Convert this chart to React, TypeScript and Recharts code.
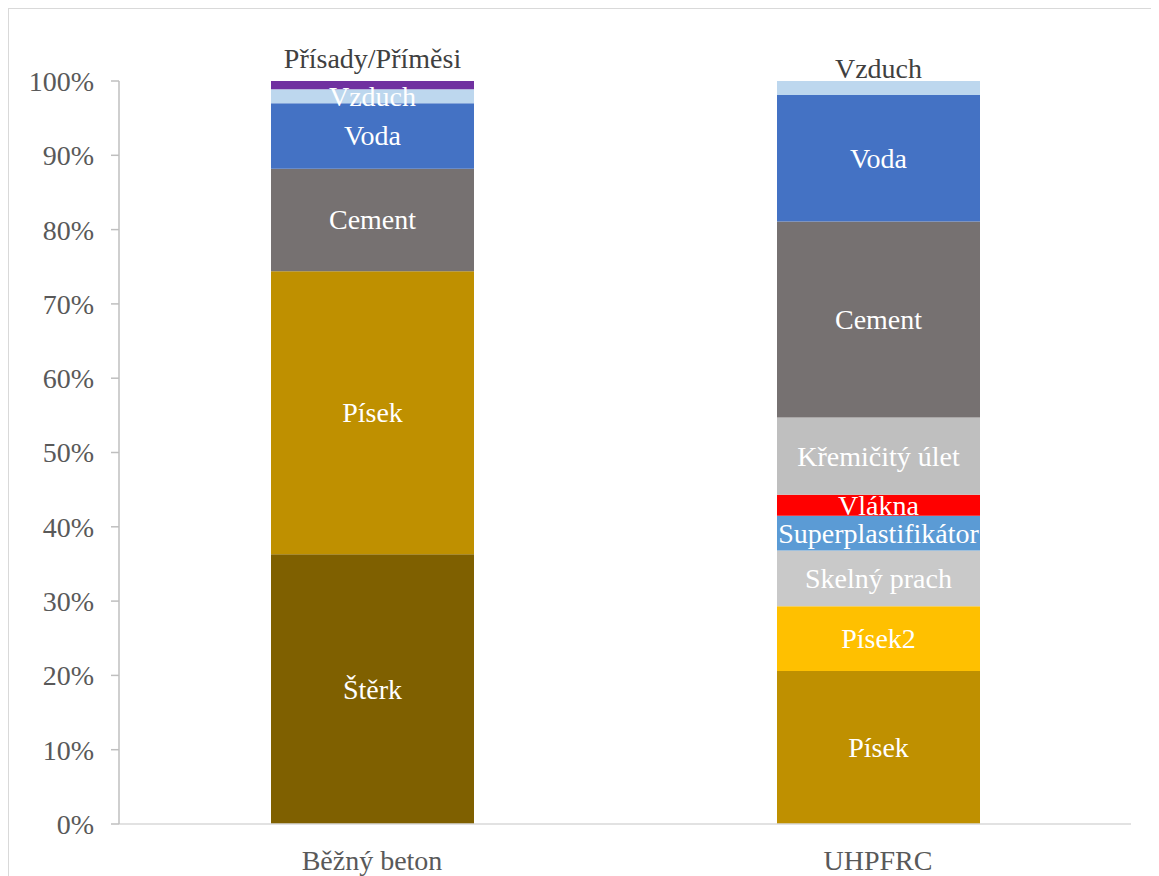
import React from 'react';
import { BarChart, Bar, XAxis, YAxis, LabelList } from 'recharts';

// ─── Data ─────────────────────────────────────────────────────────────────────
const categories = ['Běžný beton', 'UHPFRC'];
const sterk = [36.3, 0];
const pisek = [38.1, 20.6];
const pisek2 = [0, 8.7];
const skelnyPrach = [0, 7.5];
const superplast = [0, 4.7];
const vlakna = [0, 2.8];
const kremicity = [0, 10.4];
const cement = [13.8, 26.4];
const voda = [8.8, 17.0];
const vzduch = [1.9, 1.9];
const prisady = [1.1, 0];
const yTicks = [0, 10, 20, 30, 40, 50, 60, 70, 80, 90, 100];

const series = [
  { key: 'Štěrk', values: sterk, color: '#7F6000' },
  { key: 'Písek', values: pisek, color: '#BF9000' },
  { key: 'Písek2', values: pisek2, color: '#FFC000' },
  { key: 'Skelný prach', values: skelnyPrach, color: '#C9C9C9' },
  { key: 'Superplastifikátor', values: superplast, color: '#5B9BD5' },
  { key: 'Vlákna', values: vlakna, color: '#FF0000' },
  { key: 'Křemičitý úlet', values: kremicity, color: '#BFBFBF' },
  { key: 'Cement', values: cement, color: '#767171' },
  { key: 'Voda', values: voda, color: '#4472C4' },
  { key: 'Vzduch', values: vzduch, color: '#BDD7EE' },
  { key: 'Přísady/Příměsi', values: prisady, color: '#7030A0' },
];

const data = categories.map((name, i) => {
  const row: Record<string, string | number> = { name };
  series.forEach((s) => { row[s.key] = s.values[i]; });
  return row;
});

const FONT = "'Liberation Serif', 'DejaVu Serif', serif";

// labels that sit above the bar instead of inside it
const outside: Record<string, { index: number; dy: number }> = {
  'Přísady/Příměsi': { index: 0, dy: -13 },
  'Vzduch': { index: 1, dy: -3 },
};

const makeLabel = (name: string) => (props: any) => {
  const { x, y, width, height, value, index } = props;
  if (!value) return null;
  const out = outside[name];
  if (out && out.index === index) {
    return (
      <text x={x + width / 2} y={y + out.dy} textAnchor="middle" fill="#404040"
        fontSize={28} style={{ fontFamily: FONT }}>{name}</text>
    );
  }
  return (
    <text x={x + width / 2} y={y + height / 2} textAnchor="middle" dominantBaseline="central"
      fill="#FFFFFF" fontSize={28} style={{ fontFamily: FONT }}>{name}</text>
  );
};

export default function App() {
  return (
    <div style={{ width: 1152, height: 870, border: '1px solid #D9D9D9', boxSizing: 'border-box', background: '#fff', fontFamily: FONT }}>
      <BarChart width={1150} height={868} data={data} barSize={203} style={{ fontFamily: FONT }}
        margin={{ top: 72, right: 28, bottom: 13, left: 0 }}>
        <XAxis dataKey="name" height={40} tickLine={false} tickMargin={20}
          axisLine={{ stroke: '#D9D9D9', strokeWidth: 1.5 }}
          tick={{ fontSize: 28, fill: '#595959', style: { fontFamily: FONT } }} />
        <YAxis width={110} domain={[0, 100]} ticks={yTicks} allowDataOverflow
          tickFormatter={(v: number) => `${v}%`} tickSize={8} tickMargin={17}
          axisLine={{ stroke: '#BFBFBF', strokeWidth: 1.5 }} tickLine={{ stroke: '#BFBFBF', strokeWidth: 1.5 }}
          tick={{ fontSize: 28, fill: '#595959', style: { fontFamily: FONT } }} />
        {series.map((s) => (
          <Bar key={s.key} dataKey={s.key} stackId="a" fill={s.color} isAnimationActive={false}>
            <LabelList dataKey={s.key} content={makeLabel(s.key)} />
          </Bar>
        ))}
      </BarChart>
    </div>
  );
}
